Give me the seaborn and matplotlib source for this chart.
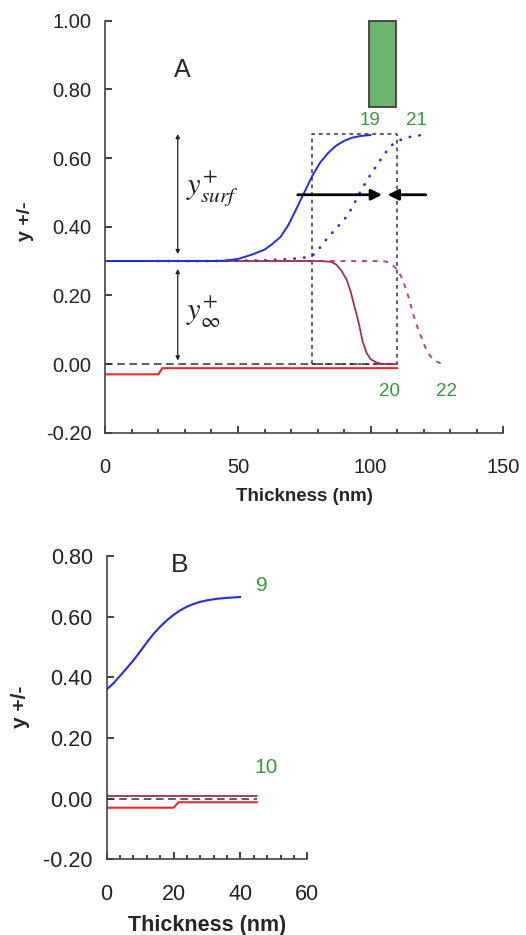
import matplotlib
matplotlib.use("Agg")
import matplotlib.pyplot as plt
from matplotlib.patches import Rectangle
import numpy as np
import pandas as pd
import seaborn as sns

# panel A curves
x19 = [0, 10, 20, 30, 40, 45, 50, 55, 60, 63, 66, 69, 72, 75, 78, 81, 84, 87, 90, 93, 96, 100]
y19 = [0.30, 0.30, 0.30, 0.30, 0.30, 0.301, 0.306, 0.318, 0.333, 0.35, 0.37, 0.405, 0.452,
       0.50, 0.548, 0.587, 0.615, 0.636, 0.65, 0.659, 0.664, 0.667]
x21 = [20, 40, 60, 70, 75, 78, 81, 84, 87, 90, 93, 96, 99, 102, 105, 108, 111, 114, 117, 121]
y21 = [0.30, 0.30, 0.302, 0.306, 0.31, 0.315, 0.34, 0.37, 0.395, 0.42, 0.455, 0.50, 0.54,
       0.575, 0.61, 0.638, 0.652, 0.66, 0.665, 0.668]
x20 = [0, 20, 40, 60, 80, 85, 87, 89, 91, 92.5, 94, 95.5, 97, 98.5, 100, 102, 104, 107, 110]
y20 = [0.30, 0.30, 0.30, 0.30, 0.30, 0.298, 0.29, 0.272, 0.245, 0.21, 0.165, 0.12, 0.065,
       0.032, 0.014, 0.005, 0.001, 0.0, 0.0]
x22 = [0, 40, 80, 104, 106, 108, 110, 111.5, 113, 114.5, 116, 117.5, 119, 120.5, 122, 124, 127]
y22 = [0.30, 0.30, 0.30, 0.30, 0.298, 0.29, 0.275, 0.255, 0.225, 0.19, 0.146, 0.11, 0.08,
       0.05, 0.028, 0.01, 0.0]
xred_a = [0, 20, 21.5, 110]
yred_a = [-0.03, -0.03, -0.012, -0.012]
xzero_a = [0, 110]
yzero_a = [0, 0]
xbox = [78, 78, 110, 110, 78]
ybox = [0, 0.67, 0.67, 0, 0]

# panel B curves
x9 = [0, 2, 4, 6, 8, 10, 12, 14, 16, 18, 20, 22, 24, 26, 28, 30, 33, 36, 40]
y9 = [0.36, 0.38, 0.405, 0.43, 0.456, 0.485, 0.515, 0.543, 0.567, 0.588, 0.606, 0.621,
      0.633, 0.642, 0.649, 0.654, 0.659, 0.662, 0.665]
x10 = [0, 45]
y10 = [0.01, 0.01]
xred_b = [0, 20, 21.5, 45]
yred_b = [-0.03, -0.03, -0.012, -0.012]
xzero_b = [0, 45]
yzero_b = [0, 0]

blue = "#2030d8"
maroon = "#9e2f5e"
pink = "#b8457a"
red = "#e42a2a"
green = "#3a963a"

sns.set_style("ticks")
plt.rcParams["font.family"] = ["Liberation Sans", "DejaVu Sans"]
plt.rcParams["mathtext.fontset"] = "stix"

fig = plt.figure(figsize=(5.26, 9.35), dpi=100)
ax1 = fig.add_axes([0.2002, 0.5372, 0.7567, 0.4407])
ax2 = fig.add_axes([0.2028, 0.0810, 0.3814, 0.3243])

# ---- panel A
sns.lineplot(x=xzero_a, y=yzero_a, ax=ax1, color="#333333", lw=1.1, linestyle=(0, (5, 3)))
sns.lineplot(x=xbox, y=ybox, ax=ax1, color="#333333", lw=1.1, linestyle=(0, (2.5, 2.5)),
             sort=False, estimator=None)
sns.lineplot(x=x22, y=y22, ax=ax1, color=pink, lw=1.4, linestyle=(0, (2.5, 3)))
sns.lineplot(x=x21, y=y21, ax=ax1, color=blue, lw=2.0, linestyle=(0, (0.1, 3.4)),
             dash_capstyle="round")
sns.lineplot(x=x20, y=y20, ax=ax1, color=maroon, lw=1.3)
sns.lineplot(x=x19, y=y19, ax=ax1, color=blue, lw=1.4)
sns.lineplot(x=xred_a, y=yred_a, ax=ax1, color=red, lw=1.5)

ax1.set_xlim(0, 150)
ax1.set_ylim(-0.2, 1.0)
ax1.set_xticks([0, 50, 100, 150])
ax1.set_xticks(np.arange(0, 151, 10), minor=True)
ax1.set_yticks(np.arange(-0.2, 1.01, 0.2))
ax1.set_yticklabels([f"{v:.2f}" for v in np.arange(-0.2, 1.01, 0.2)])
ax1.tick_params(axis="both", which="major", direction="in", length=5, width=1.2,
                labelsize=14.5, pad=10, colors="#222222")
ax1.tick_params(axis="x", which="minor", direction="in", length=3, width=1.2)
ax1.tick_params(axis="x", which="major", pad=18)
for s in ["top", "right"]:
    ax1.spines[s].set_visible(False)
for s in ["left", "bottom"]:
    ax1.spines[s].set_linewidth(1.2)
    ax1.spines[s].set_color("#444444")

ax1.set_xlabel("Thickness (nm)", fontsize=13.5, fontweight="bold", va="center")
ax1.xaxis.set_label_coords(0.5, -0.155)
ax1.set_ylabel("y +/-", fontsize=14, fontweight="bold", va="center")
ax1.yaxis.set_label_coords(-0.2, 0.513)

ax1.add_patch(Rectangle((99.3, 0.75), 10.4, 0.25, facecolor="#6cb46c",
                        edgecolor="#333333", lw=1.2, clip_on=False))
ax1.text(28.9, 0.857, "A", fontsize=18, ha="center", va="center")
for lbl, lx, ly in [("19", 99.7, 0.71), ("21", 117.3, 0.71), ("20", 107, -0.08), ("22", 128.6, -0.08)]:
    ax1.text(lx, ly, lbl, color=green, fontsize=13.5, ha="center", va="center")

# vertical double arrows and labels
ax1.annotate("", xy=(27.3, 0.67), xytext=(27.3, 0.32),
             arrowprops=dict(arrowstyle="<|-|>", color="#222222", lw=0.9,
                             mutation_scale=6, shrinkA=0, shrinkB=0))
ax1.annotate("", xy=(27.3, 0.277), xytext=(27.3, 0.01),
             arrowprops=dict(arrowstyle="<|-|>", color="#222222", lw=0.9,
                             mutation_scale=6, shrinkA=0, shrinkB=0))
ax1.text(30.5, 0.51, r"$y^{+}_{surf}$", fontsize=22, ha="left", va="center", color="#222222")
ax1.text(30.5, 0.15, r"$y^{+}_{\infty}$", fontsize=22, ha="left", va="center", color="#222222")

# horizontal arrows
ax1.annotate("", xy=(104.3, 0.493), xytext=(72.5, 0.493),
             arrowprops=dict(arrowstyle="-|>", color="black", lw=2,
                             mutation_scale=16, shrinkA=0, shrinkB=0))
ax1.annotate("", xy=(106.4, 0.493), xytext=(120.8, 0.493),
             arrowprops=dict(arrowstyle="-|>", color="black", lw=2,
                             mutation_scale=16, shrinkA=0, shrinkB=0))

# ---- panel B
sns.lineplot(x=xzero_b, y=yzero_b, ax=ax2, color="#333333", lw=1.1, linestyle=(0, (5, 3)))
sns.lineplot(x=x10, y=y10, ax=ax2, color=maroon, lw=1.3)
sns.lineplot(x=xred_b, y=yred_b, ax=ax2, color=red, lw=1.5)
sns.lineplot(x=x9, y=y9, ax=ax2, color=blue, lw=1.5)

ax2.set_xlim(0, 60)
ax2.set_ylim(-0.2, 0.8)
ax2.set_xticks([0, 20, 40, 60])
ax2.set_xticks(np.arange(0, 61, 4), minor=True)
ax2.set_yticks(np.arange(-0.2, 0.81, 0.2))
ax2.set_yticklabels([f"{v:.2f}" for v in np.arange(-0.2, 0.81, 0.2)])
ax2.tick_params(axis="both", which="major", direction="in", length=5, width=1.2,
                labelsize=15.5, pad=10, colors="#222222")
ax2.tick_params(axis="x", which="minor", direction="in", length=3, width=1.2)
ax2.tick_params(axis="x", which="major", pad=18)
for s in ["top", "right"]:
    ax2.spines[s].set_visible(False)
for s in ["left", "bottom"]:
    ax2.spines[s].set_linewidth(1.2)
    ax2.spines[s].set_color("#444444")

ax2.set_xlabel("Thickness (nm)", fontsize=15.5, fontweight="bold", va="center")
ax2.xaxis.set_label_coords(0.4985, -0.22)
ax2.set_ylabel("y +/-", fontsize=15, fontweight="bold", va="center")
ax2.yaxis.set_label_coords(-0.432, 0.503)

ax2.text(21.9, 0.769, "B", fontsize=19, ha="center", va="center")
ax2.text(46.3, 0.703, "9", color=green, fontsize=15, ha="center", va="center")
ax2.text(47.8, 0.102, "10", color=green, fontsize=15, ha="center", va="center")

fig.savefig("out.png", dpi=100)
